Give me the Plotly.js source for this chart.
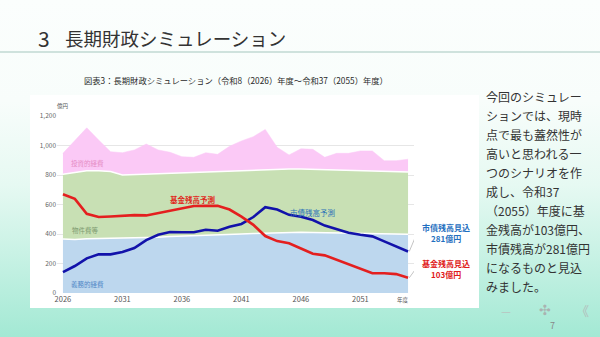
<!DOCTYPE html>
<html>
<head>
<meta charset="utf-8">
<script src="https://cdn.plot.ly/plotly-3.0.1.min.js"></script>
<style>
html,body{margin:0;padding:0;}
body{width:600px;height:337px;overflow:hidden;
background:linear-gradient(180deg,#fbfefd 0%,#f8fdfb 30%,#e6f9f2 55%,#c9f2e5 75%,#a3e9d4 100%);}
#chart{width:600px;height:337px;}
</style>
</head>
<body>
<div id="chart"></div>
<script>
// ---- data ----
const years = [2026,2027,2028,2029,2030,2031,2032,2033,2034,2035,2036,2037,2038,2039,2040,2041,2042,2043,2044,2045,2046,2047,2048,2049,2050,2051,2052,2053,2054,2055];
// 義務的経費 (stack bottom)
const gimuteki = [366,362,368,370,372,370,372,375,378,383,385,388,390,393,396,400,403,406,410,412,412,411,410,408,406,404,402,400,399,398];
// 物件費等 (stack middle)
const bukkenhi = [439,454,460,458,451,430,431,433,432,429,430,430,430,429,429,428,429,430,430,429,428,427,426,426,426,426,426,425,423,422];
// 投資的経費 (stack top)
const toushiteki = [142,216,292,209,135,151,167,202,160,142,109,102,131,118,170,203,228,273,148,95,138,136,84,113,115,133,135,72,75,87];
// 基金残高予測
const kikin = [670,638,537,515,519,524,528,526,542,555,573,590,592,591,566,518,462,386,352,337,302,266,255,226,196,163,134,134,128,103];
// 市債残高予測
const shisai = [142,183,235,262,262,278,305,359,395,413,412,412,429,422,449,468,515,582,566,530,517,495,457,434,409,395,384,350,316,281];

const xTickVals = [2026,2031,2036,2041,2046,2051];
const xTickText = ['2026','2031','2036','2041','2046','2051'];
const yTickVals = [0,200,400,600,800,1000,1200];

const rightText = [
 '今回のシミュレー',
 'ションでは、現時',
 '点で最も蓋然性が',
 '高いと思われる一',
 'つのシナリオを作',
 '成し、令和37',
 '（2055）年度に基',
 '金残高が103億円、',
 '市債残高が281億円',
 'になるものと見込',
 'みました。'
];

// ---- geometry ----
const L=57, R=414, T=116, B=293;
const px = x => (x-L)/(R-L);
const py = y => (B-y)/(B-T);
const FONT = '"Noto Sans CJK JP", "Noto Sans", sans-serif';
const last = years.length-1;

const traces = [
 {x:years, y:gimuteki, type:'scatter', mode:'lines', stackgroup:'a', fillcolor:'#bdd7ee', line:{color:'#ffffff', width:1.5}, hoverinfo:'skip'},
 {x:years, y:bukkenhi, type:'scatter', mode:'lines', stackgroup:'a', fillcolor:'#c8e0b4', line:{color:'#ffffff', width:1.5}, hoverinfo:'skip'},
 {x:years, y:toushiteki, type:'scatter', mode:'lines', stackgroup:'a', fillcolor:'#fbc9f6', line:{color:'#fbc9f6', width:0.5}, hoverinfo:'skip'},
 {x:years, y:shisai, type:'scatter', mode:'lines', line:{color:'#1212aa', width:2.6}, hoverinfo:'skip'},
 {x:years, y:kikin, type:'scatter', mode:'lines', line:{color:'#e41f1f', width:2.6}, hoverinfo:'skip'}
];

const ann = [];
function txt(x, y, text, size, color, xanchor, family){
  ann.push({xref:'paper',yref:'paper',x:px(x),y:py(y),xanchor:xanchor||'center',yanchor:'middle',showarrow:false,text:text,font:{family:family||FONT,size:size,color:color}});
}
// headline
txt(36, 38, '3', 21, '#333', 'left');
txt(63, 38, '長期財政シミュレーション', 18.5, '#333', 'left');
// chart caption
txt(82, 80, '図表3：長期財政シミュレーション（令和8（2026）年度～令和37（2055）年度）', 8.3, '#2a2a2a', 'left');
// unit labels
txt(55, 106, '億円', 5.5, '#555', 'left');
txt(403, 300, '年度', 5.5, '#555', 'center');
// area labels
ann.push({x:2028.1,y:882,showarrow:false,text:'投資的経費',font:{family:FONT,size:6.5,color:'#e58bc4'}});
ann.push({x:2027.9,y:425,showarrow:false,text:'物件費等',font:{family:FONT,size:6.5,color:'#7d9a70'}});
ann.push({x:2028.1,y:62,showarrow:false,text:'義務的経費',font:{family:FONT,size:6.5,color:'#4f86c6'}});
// line labels
ann.push({x:2036.9,y:632,showarrow:false,text:'<b>基金残高予測</b>',font:{family:FONT,size:7.5,color:'#e02a1e'}});
ann.push({x:2047.0,y:549,showarrow:false,text:'市債残高予測',font:{family:FONT,size:7.5,color:'#2a72b8'}});
txt(446, 227, '<b>市債残高見込</b>', 8, '#1f6fc0');
txt(446, 238, '<b>'+shisai[last]+'億円</b>', 8, '#1f6fc0');
txt(446, 263.5, '<b>基金残高見込</b>', 8, '#e01a1a');
txt(446, 274, '<b>'+kikin[last]+'億円</b>', 8, '#e01a1a');
// right column text
rightText.forEach((t,i)=>{ txt(484, 96.5+i*19, t, 12, '#333', 'left'); });
// footer
txt(506, 311, '－', 12, '#b9c4c1');
txt(545, 310, '✣', 14, '#a9b3b1', 'center', 'DejaVu Sans');
txt(582, 310, '《', 13, '#b3bcba');
txt(552, 325, '7', 9, '#888');

const shapes = [
 // white chart panel
 {type:'rect',xref:'paper',yref:'paper',x0:px(30),x1:px(479),y0:py(308),y1:py(95),fillcolor:'#ffffff',line:{width:0},layer:'below'},
 // header rule
 {type:'line',xref:'paper',yref:'paper',x0:px(0),x1:px(600),y0:py(52),y1:py(52),line:{color:'#cfe2dd',width:2}},
 // leader lines
 {type:'line',x0:years[last]+0.1,y0:shisai[last],x1:years[last]+0.75,y1:shisai[last]+125,line:{color:'#c4c4c4',width:1}},
 {type:'line',x0:years[last]+0.1,y0:kikin[last],x1:years[last]+0.75,y1:kikin[last]+72,line:{color:'#c4c4c4',width:1}}
];

const layout = {
 width:600, height:337,
 margin:{l:L, r:600-R, t:T, b:337-B},
 paper_bgcolor:'rgba(0,0,0,0)', plot_bgcolor:'rgba(0,0,0,0)',
 showlegend:false,
 font:{family:FONT},
 xaxis:{range:[2025.5,2055.5], tickvals:xTickVals, ticktext:xTickText, showgrid:false, zeroline:false, showline:false, ticks:'', tickfont:{family:FONT,size:7.5,color:'#555'}, automargin:false, fixedrange:true},
 yaxis:{range:[0,1200], tickvals:yTickVals, tickformat:',d', showgrid:true, gridcolor:'#e6e6e6', gridwidth:1, zeroline:false, showline:false, ticks:'', tickfont:{family:FONT,size:6.5,color:'#666'}, automargin:false, fixedrange:true},
 annotations:ann,
 shapes:shapes
};

Plotly.newPlot('chart', traces, layout, {staticPlot:true, displayModeBar:false});
</script>
</body>
</html>
